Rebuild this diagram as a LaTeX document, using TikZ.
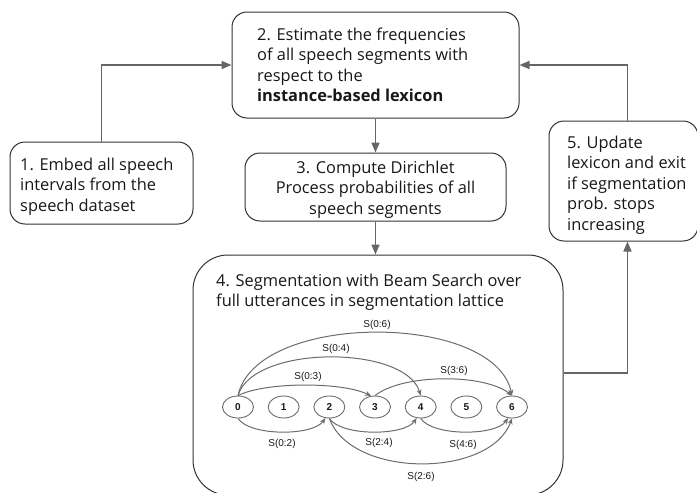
\documentclass[tikz,border=0pt]{standalone}
\usepackage{fontspec}
\setmainfont{Open Sans}
\newfontfamily\latticefont{Liberation Sans}
\usetikzlibrary{arrows.meta,shapes.geometric,calc}

\definecolor{flowgray}{HTML}{666666}
\definecolor{boxline}{HTML}{333333}
\definecolor{edgegray}{HTML}{6C6C6C}
\definecolor{ink}{HTML}{181818}

\begin{document}
\begin{tikzpicture}[x=1pt,y=-1pt,
  box/.style={draw=boxline, line width=1pt, rounded corners=15pt, inner sep=0pt},
  txt/.style={inner sep=0pt, font=\fontsize{16.4}{20.5}\selectfont, text=ink},
  flow/.style={draw=flowgray, line width=1.6pt, -{Triangle[length=10pt,width=8pt]}},
  state/.style={ellipse, draw=edgegray, line width=0.9pt, minimum width=31pt,
    minimum height=22pt, inner sep=0pt, text=ink,
    font=\latticefont\bfseries\fontsize{10}{12}\selectfont},
  edge/.style={draw=edgegray, line width=1pt, -{Stealth[length=6pt,width=5pt]}},
  elabel/.style={font=\latticefont\fontsize{10}{12}\selectfont, text=ink, inner sep=0pt}
]
\useasboundingbox (0,0) rectangle (697,493);

% process boxes
\node[box, minimum width=183pt, minimum height=82pt]  (b1) at (101.5,183) {};
\node[box, minimum width=287pt, minimum height=106pt] (b2) at (375.5,65) {};
\node[box, minimum width=261pt, minimum height=68pt]  (b3) at (375.5,187) {};
\node[box, rounded corners=35pt, minimum width=370pt, minimum height=240pt] (b4) at (378,375) {};
\node[box, minimum width=149pt, minimum height=120pt] (b5) at (623.5,181) {};

% box texts (anchored at the baseline of the last line)
\node[txt, anchor=base west, align=left] (t1) at (20,211)
  {1. Embed all speech\\intervals from the\\speech dataset};
\node[txt, anchor=base west, align=left] (t2) at (257,101.5)
  {2. Estimate the frequencies\\of all speech segments with\\respect to the\\\textbf{instance-based lexicon}};
\node[txt, anchor=base, align=center] (t3) at (375.5,214)
  {3. Compute Dirichlet\\Process probabilities of all\\speech segments};
\node[txt, anchor=base west, align=left] (t4) at (216,306.5)
  {4. Segmentation with Beam Search over\\full utterances in segmentation lattice};
\node[txt, anchor=base west, align=left] (t5) at (567,230)
  {5. Update\\lexicon and exit\\if segmentation\\prob. stops\\increasing};

% flow connectors
\coordinate (b5in) at ([xshift=4pt]b5.south);
\coordinate (b5out) at ([xshift=4pt]b5.north);
\coordinate (b4out) at ([yshift=2pt]b4.east);
\draw[flow] (b1.north) |- (b2.west);
\draw[flow] (b2.south) -- (b3.north);
\draw[flow] (b3.south) -- (b3.south |- b4.north);
\draw[flow] (b4out) -| (b5in);
\draw[flow] (b5out) |- (b2.east);

% segmentation lattice
\foreach \i in {0,...,6}
  \node[state] (n\i) at ({238+45.67*\i},407) {\i};

\draw[edge] (n0.north) .. controls +(18,-84) and +(-18,-84) .. (n6.north);
\draw[edge] (n0.north) .. controls +(15,-51) and +(-15,-51) .. (n4.north);
\draw[edge] (n0.north) .. controls +(28,-14) and +(-28,-14) .. (n3.110);
\draw[edge] (n3.north) .. controls +(28,-22) and +(-28,-22) .. (n6.north);
\draw[edge] (n0.south) .. controls +(12,18) and +(-12,18) .. (n2.250);
\draw[edge] (n2.south) .. controls +(12,18) and +(-12,18) .. (n4.250);
\draw[edge] (n4.south) .. controls +(12,18) and +(-12,18) .. (n6.250);
\draw[edge] (n2.south) .. controls +(22,60) and +(-22,60) .. (n6.south);

\node[elabel] (l06) at (377,325) {S(0:6)};
\node[elabel] (l04) at (336,349) {S(0:4)};
\node[elabel] (l03) at (308,377) {S(0:3)};
\node[elabel] (l36) at (454,371) {S(3:6)};
\node[elabel] (l02) at (282,444) {S(0:2)};
\node[elabel] (l24) at (379,443) {S(2:4)};
\node[elabel] (l46) at (463,445) {S(4:6)};
\node[elabel] (l26) at (421,477) {S(2:6)};
\end{tikzpicture}
\end{document}
